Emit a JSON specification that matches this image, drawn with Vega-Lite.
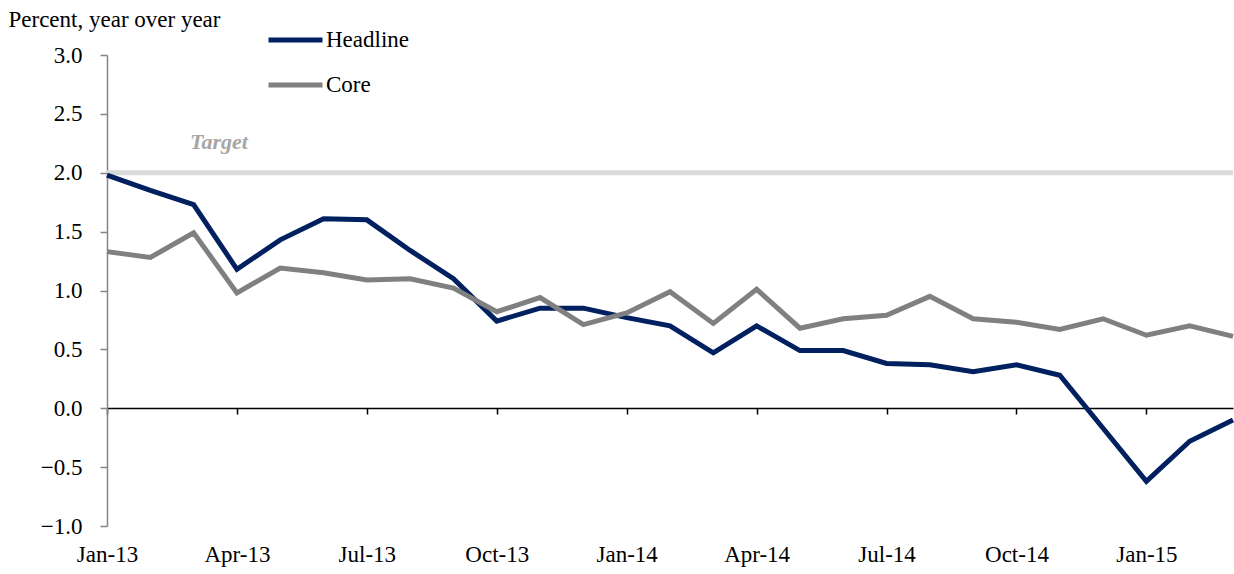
{
  "$schema": "https://vega.github.io/schema/vega-lite/v6.json",
  "width": 1126,
  "height": 471,
  "autosize": "none",
  "padding": {"left": 107, "top": 55, "right": 1, "bottom": 48},
  "background": "white",
  "config": {
    "font": "Liberation Serif",
    "view": {"stroke": null}
  },
  "datasets": {
    "cpi": [
      {"month": "Jan-13", "series": "Headline", "value": 1.98},
      {"month": "Feb-13", "series": "Headline", "value": 1.85},
      {"month": "Mar-13", "series": "Headline", "value": 1.73},
      {"month": "Apr-13", "series": "Headline", "value": 1.18},
      {"month": "May-13", "series": "Headline", "value": 1.43},
      {"month": "Jun-13", "series": "Headline", "value": 1.61},
      {"month": "Jul-13", "series": "Headline", "value": 1.60},
      {"month": "Aug-13", "series": "Headline", "value": 1.34},
      {"month": "Sep-13", "series": "Headline", "value": 1.10},
      {"month": "Oct-13", "series": "Headline", "value": 0.74},
      {"month": "Nov-13", "series": "Headline", "value": 0.85},
      {"month": "Dec-13", "series": "Headline", "value": 0.85},
      {"month": "Jan-14", "series": "Headline", "value": 0.77},
      {"month": "Feb-14", "series": "Headline", "value": 0.70},
      {"month": "Mar-14", "series": "Headline", "value": 0.47},
      {"month": "Apr-14", "series": "Headline", "value": 0.70},
      {"month": "May-14", "series": "Headline", "value": 0.49},
      {"month": "Jun-14", "series": "Headline", "value": 0.49},
      {"month": "Jul-14", "series": "Headline", "value": 0.38},
      {"month": "Aug-14", "series": "Headline", "value": 0.37},
      {"month": "Sep-14", "series": "Headline", "value": 0.31},
      {"month": "Oct-14", "series": "Headline", "value": 0.37},
      {"month": "Nov-14", "series": "Headline", "value": 0.28},
      {"month": "Dec-14", "series": "Headline", "value": -0.17},
      {"month": "Jan-15", "series": "Headline", "value": -0.62},
      {"month": "Feb-15", "series": "Headline", "value": -0.28},
      {"month": "Mar-15", "series": "Headline", "value": -0.10},
      {"month": "Jan-13", "series": "Core", "value": 1.33},
      {"month": "Feb-13", "series": "Core", "value": 1.28},
      {"month": "Mar-13", "series": "Core", "value": 1.49},
      {"month": "Apr-13", "series": "Core", "value": 0.98},
      {"month": "May-13", "series": "Core", "value": 1.19},
      {"month": "Jun-13", "series": "Core", "value": 1.15},
      {"month": "Jul-13", "series": "Core", "value": 1.09},
      {"month": "Aug-13", "series": "Core", "value": 1.10},
      {"month": "Sep-13", "series": "Core", "value": 1.02},
      {"month": "Oct-13", "series": "Core", "value": 0.82},
      {"month": "Nov-13", "series": "Core", "value": 0.94},
      {"month": "Dec-13", "series": "Core", "value": 0.71},
      {"month": "Jan-14", "series": "Core", "value": 0.81},
      {"month": "Feb-14", "series": "Core", "value": 0.99},
      {"month": "Mar-14", "series": "Core", "value": 0.72},
      {"month": "Apr-14", "series": "Core", "value": 1.01},
      {"month": "May-14", "series": "Core", "value": 0.68},
      {"month": "Jun-14", "series": "Core", "value": 0.76},
      {"month": "Jul-14", "series": "Core", "value": 0.79},
      {"month": "Aug-14", "series": "Core", "value": 0.95},
      {"month": "Sep-14", "series": "Core", "value": 0.76},
      {"month": "Oct-14", "series": "Core", "value": 0.73},
      {"month": "Nov-14", "series": "Core", "value": 0.67},
      {"month": "Dec-14", "series": "Core", "value": 0.76},
      {"month": "Jan-15", "series": "Core", "value": 0.62},
      {"month": "Feb-15", "series": "Core", "value": 0.70},
      {"month": "Mar-15", "series": "Core", "value": 0.61}
    ],
    "target": [
      {"label": "Target", "value": 2, "month": "Apr-13"}
    ]
  },
  "layer": [
    {
      "data": {"name": "target"},
      "mark": {"type": "rule", "color": "#d9d9d9", "strokeWidth": 5},
      "encoding": {
        "y": {
          "field": "value",
          "type": "quantitative",
          "scale": {"domain": [-1, 3], "nice": false, "zero": false},
          "axis": {
            "values": [-1, -0.5, 0, 0.5, 1, 1.5, 2, 2.5, 3],
            "format": ".1f",
            "grid": false,
            "domainColor": "#868686",
            "domainWidth": 1.5,
            "tickColor": "#868686",
            "tickWidth": 1.5,
            "tickSize": 7,
            "labelPadding": 18,
            "labelFontSize": 23,
            "labelColor": "#000000",
            "title": "Percent, year over year",
            "titleAngle": 0,
            "titleAlign": "left",
            "titleBaseline": "middle",
            "titleX": -99,
            "titleY": -36,
            "titleFontSize": 23,
            "titleFontWeight": "normal",
            "titleColor": "#000000"
          }
        }
      }
    },
    {
      "data": {"name": "target"},
      "mark": {"type": "text", "font": "Liberation Serif", "fontSize": 22, "fontStyle": "italic", "fontWeight": "bold", "color": "#a6a6a6", "dx": -18, "dy": -31, "baseline": "middle"},
      "encoding": {
        "x": {"field": "month", "type": "ordinal"},
        "y": {"field": "value", "type": "quantitative"},
        "text": {"field": "label"}
      }
    },
    {
      "data": {"name": "cpi"},
      "mark": {"type": "line", "strokeWidth": 5, "strokeCap": "butt", "strokeJoin": "miter"},
      "encoding": {
        "x": {
          "field": "month",
          "type": "ordinal",
          "sort": null,
          "scale": {
            "type": "point",
            "padding": 0,
            "domain": ["Jan-13", "Feb-13", "Mar-13", "Apr-13", "May-13", "Jun-13", "Jul-13", "Aug-13", "Sep-13", "Oct-13", "Nov-13", "Dec-13", "Jan-14", "Feb-14", "Mar-14", "Apr-14", "May-14", "Jun-14", "Jul-14", "Aug-14", "Sep-14", "Oct-14", "Nov-14", "Dec-14", "Jan-15", "Feb-15", "Mar-15"]
          },
          "axis": {
            "title": null,
            "values": ["Jan-13", "Apr-13", "Jul-13", "Oct-13", "Jan-14", "Apr-14", "Jul-14", "Oct-14", "Jan-15"],
            "labelAngle": 0,
            "labelAlign": "center",
            "offset": -118,
            "domainColor": "#000000",
            "domainWidth": 1.5,
            "tickColor": "#000000",
            "tickWidth": 1.5,
            "tickSize": 6,
            "labelPadding": 129,
            "labelFontSize": 23,
            "labelColor": "#000000",
            "labelBaseline": "top",
            "grid": false
          }
        },
        "y": {"field": "value", "type": "quantitative"},
        "color": {
          "field": "series",
          "type": "nominal",
          "scale": {"domain": ["Headline", "Core"], "range": ["#002060", "#808080"]},
          "legend": {
            "title": null,
            "orient": "none",
            "legendX": 159,
            "legendY": -26,
            "direction": "vertical",
            "symbolType": "stroke",
            "symbolSize": 2916,
            "symbolStrokeWidth": 5,
            "clipHeight": 22,
            "rowPadding": 22,
            "labelOffset": 1,
            "labelFontSize": 23,
            "labelColor": "#000000",
            "padding": 0
          }
        }
      }
    }
  ]
}
